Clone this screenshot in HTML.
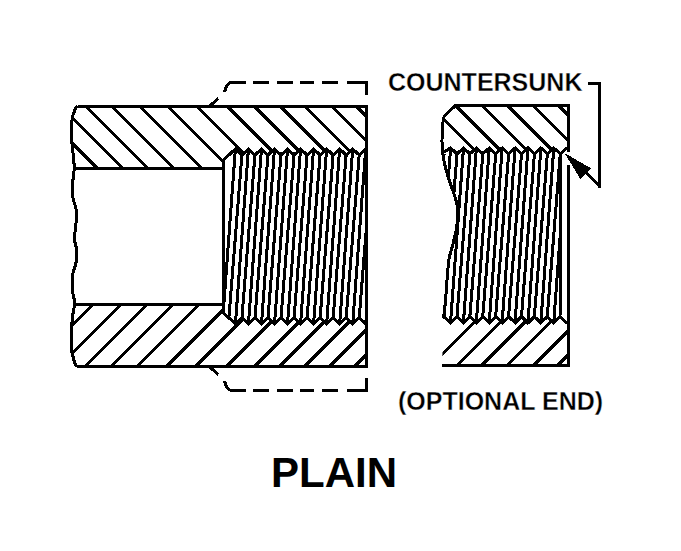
<!DOCTYPE html>
<html><head><meta charset="utf-8"><style>
html,body{margin:0;padding:0;background:#fff;}
body{width:681px;height:551px;overflow:hidden;position:relative;}
svg{position:absolute;left:0;top:0;}
.t{position:absolute;font-family:"Liberation Sans",sans-serif;color:#000;white-space:nowrap;line-height:1;}
</style></head><body>
<svg width="681" height="551" viewBox="0 0 681 551">
<defs><clipPath id="cTop"><polygon points="76.50,106.50 366.50,106.50 366.50,149.65 365.70,148.90 359.18,155.00 352.67,148.90 346.15,155.00 339.64,148.90 333.12,155.00 326.61,148.90 320.09,155.00 313.58,148.90 307.06,155.00 300.55,148.90 294.03,155.00 287.52,148.90 281.00,155.00 274.49,148.90 267.97,155.00 261.46,148.90 254.94,155.00 248.43,148.90 241.91,155.00 235.40,148.90 223.50,160.00 223.50,168.00 74.00,168.00 73.60,158.00 72.00,143.50 71.50,130.00 71.70,122.50 72.80,116.00 74.30,111.50 75.50,108.50 77.50,106.40"/></clipPath><clipPath id="cBot"><polygon points="77.00,366.50 366.50,366.50 366.50,323.05 365.70,323.80 359.18,317.70 352.67,323.80 346.15,317.70 339.64,323.80 333.12,317.70 326.61,323.80 320.09,317.70 313.58,323.80 307.06,317.70 300.55,323.80 294.03,317.70 287.52,323.80 281.00,317.70 274.49,323.80 267.97,317.70 261.46,323.80 254.94,317.70 248.43,323.80 241.91,317.70 235.40,323.80 223.50,313.00 223.50,304.50 74.00,304.50 74.60,305.00 73.20,312.00 71.70,327.00 71.80,350.00 72.90,356.00 74.20,361.00 75.60,364.60 77.00,366.40"/></clipPath><clipPath id="cThr"><polygon points="223.50,160.00 235.40,148.90 241.91,155.00 248.43,148.90 254.94,155.00 261.46,148.90 267.97,155.00 274.49,148.90 281.00,155.00 287.52,148.90 294.03,155.00 300.55,148.90 307.06,155.00 313.58,148.90 320.09,155.00 326.61,148.90 333.12,155.00 339.64,148.90 346.15,155.00 352.67,148.90 359.18,155.00 365.70,148.90 366.50,149.65 366.50,323.05 365.70,323.80 359.18,317.70 352.67,323.80 346.15,317.70 339.64,323.80 333.12,317.70 326.61,323.80 320.09,317.70 313.58,323.80 307.06,317.70 300.55,323.80 294.03,317.70 287.52,323.80 281.00,317.70 274.49,323.80 267.97,317.70 261.46,323.80 254.94,317.70 248.43,323.80 241.91,317.70 235.40,323.80 223.50,313.00"/></clipPath><clipPath id="coTop"><polygon points="454.50,105.50 568.40,105.50 567.40,148.00 566.70,148.00 560.25,153.80 553.80,148.00 547.35,153.80 540.90,148.00 534.45,153.80 528.00,148.00 521.55,153.80 515.10,148.00 508.65,153.80 502.20,148.00 495.75,153.80 489.30,148.00 482.85,153.80 476.40,148.00 469.95,153.80 463.50,148.00 457.05,153.80 450.60,148.00 444.00,152.00 442.50,150.00 442.00,141.00 442.70,126.00 443.50,118.50 445.00,115.50"/></clipPath><clipPath id="coBot"><polygon points="442.00,365.50 568.40,365.50 568.40,323.10 566.70,322.90 560.25,316.60 553.80,322.90 547.35,316.60 540.90,322.90 534.45,316.60 528.00,322.90 521.55,316.60 515.10,322.90 508.65,316.60 502.20,322.90 495.75,316.60 489.30,322.90 482.85,316.60 476.40,322.90 469.95,316.60 463.50,322.90 457.05,316.60 450.60,322.90 443.80,316.80"/></clipPath><clipPath id="coThr"><polygon points="444.00,152.00 450.60,148.00 457.05,153.80 463.50,148.00 469.95,153.80 476.40,148.00 482.85,153.80 489.30,148.00 495.75,153.80 502.20,148.00 508.65,153.80 515.10,148.00 521.55,153.80 528.00,148.00 534.45,153.80 540.90,148.00 547.35,153.80 553.80,148.00 560.25,153.80 560.40,152.00 560.40,318.00 560.25,316.60 553.80,322.90 547.35,316.60 540.90,322.90 534.45,316.60 528.00,322.90 521.55,316.60 515.10,322.90 508.65,316.60 502.20,322.90 495.75,316.60 489.30,322.90 482.85,316.60 476.40,322.90 469.95,316.60 463.50,322.90 457.05,316.60 450.60,322.90 443.80,316.80 443.80,318.00 444.20,312.00 445.50,300.70 447.40,275.00 449.10,258.30 451.80,248.50 454.50,237.60 456.70,227.00 457.80,216.00 457.00,204.30 453.80,193.50 450.00,182.60 446.70,172.00 444.00,161.00"/></clipPath></defs>
<g fill="none" stroke="#000" stroke-linecap="butt" shape-rendering="crispEdges">
<g clip-path="url(#cTop)"><path d="M19.00,90 L119.00,190 M44.40,90 L144.40,190 M69.30,90 L169.30,190 M95.70,90 L195.70,190 M123.50,90 L223.50,190 M151.50,90 L251.50,190 M180.30,90 L280.30,190 M211.00,90 L311.00,190 M238.00,90 L338.00,190 M264.00,90 L364.00,190 M288.60,90 L388.60,190 M315.70,90 L415.70,190 M340.00,90 L440.00,190" stroke-width="3"/></g>
<g clip-path="url(#cBot)"><path d="M107.40,290 L17.40,380 M135.40,290 L45.40,380 M161.50,290 L71.50,380 M187.40,290 L97.40,380 M213.80,290 L123.80,380 M243.00,290 L153.00,380 M272.00,290 L182.00,380 M303.00,290 L213.00,380 M331.00,290 L241.00,380 M356.00,290 L266.00,380 M381.00,290 L291.00,380 M406.00,290 L316.00,380 M431.00,290 L341.00,380" stroke-width="3"/></g>
<g clip-path="url(#cThr)"><path d="M235.40,148.9 L222.40,323.8 M241.91,155.0 L228.91,317.7 M248.43,148.9 L235.43,323.8 M254.94,155.0 L241.94,317.7 M261.46,148.9 L248.46,323.8 M267.97,155.0 L254.97,317.7 M274.49,148.9 L261.49,323.8 M281.00,155.0 L268.00,317.7 M287.52,148.9 L274.52,323.8 M294.03,155.0 L281.03,317.7 M300.55,148.9 L287.55,323.8 M307.06,155.0 L294.06,317.7 M313.58,148.9 L300.58,323.8 M320.09,155.0 L307.09,317.7 M326.61,148.9 L313.61,323.8 M333.12,155.0 L320.12,317.7 M339.64,148.9 L326.64,323.8 M346.15,155.0 L333.15,317.7 M352.67,148.9 L339.67,323.8 M359.19,155.0 L346.19,317.7 M365.70,148.9 L352.70,323.8 M372.21,155.0 L359.21,317.7 M378.73,148.9 L365.73,323.8 M385.25,155.0 L372.25,317.7 M391.76,148.9 L378.76,323.8 M398.27,155.0 L385.27,317.7 M404.79,148.9 L391.79,323.8 M411.30,155.0 L398.30,317.7 M417.82,148.9 L404.82,323.8 M424.33,155.0 L411.33,317.7 M430.85,148.9 L417.85,323.8 M437.37,155.0 L424.37,317.7 M443.88,148.9 L430.88,323.8 M450.39,155.0 L437.39,317.7 M456.91,148.9 L443.91,323.8 M463.42,155.0 L450.42,317.7 M469.94,148.9 L456.94,323.8 M476.45,155.0 L463.45,317.7 M482.97,148.9 L469.97,323.8 M489.49,155.0 L476.49,317.7 M496.00,148.9 L483.00,323.8 M502.51,155.0 L489.51,317.7 M509.03,148.9 L496.03,323.8 M515.54,155.0 L502.54,317.7 M522.06,148.9 L509.06,323.8 M528.57,155.0 L515.57,317.7 M535.09,148.9 L522.09,323.8 M541.61,155.0 L528.61,317.7" stroke-width="3"/></g>
<g clip-path="url(#coTop)"><path d="M414.50,90 L514.50,190 M440.10,90 L540.10,190 M466.50,90 L566.50,190 M491.90,90 L591.90,190 M517.70,90 L617.70,190 M543.00,90 L643.00,190" stroke-width="3"/></g>
<g clip-path="url(#coBot)"><path d="M506.50,290 L416.50,380 M532.40,290 L442.40,380 M557.10,290 L467.10,380 M582.40,290 L492.40,380 M609.10,290 L519.10,380 M633.00,290 L543.00,380" stroke-width="3"/></g>
<g clip-path="url(#coThr)"><path d="M411.90,148.0 L398.90,322.9 M418.35,153.8 L405.35,316.6 M424.80,148.0 L411.80,322.9 M431.25,153.8 L418.25,316.6 M437.70,148.0 L424.70,322.9 M444.15,153.8 L431.15,316.6 M450.60,148.0 L437.60,322.9 M457.05,153.8 L444.05,316.6 M463.50,148.0 L450.50,322.9 M469.95,153.8 L456.95,316.6 M476.40,148.0 L463.40,322.9 M482.85,153.8 L469.85,316.6 M489.30,148.0 L476.30,322.9 M495.75,153.8 L482.75,316.6 M502.20,148.0 L489.20,322.9 M508.65,153.8 L495.65,316.6 M515.10,148.0 L502.10,322.9 M521.55,153.8 L508.55,316.6 M528.00,148.0 L515.00,322.9 M534.45,153.8 L521.45,316.6 M540.90,148.0 L527.90,322.9 M547.35,153.8 L534.35,316.6 M553.80,148.0 L540.80,322.9 M560.25,153.8 L547.25,316.6 M566.70,148.0 L553.70,322.9 M573.15,153.8 L560.15,316.6 M579.60,148.0 L566.60,322.9 M586.05,153.8 L573.05,316.6 M592.50,148.0 L579.50,322.9 M598.95,153.8 L585.95,316.6 M605.40,148.0 L592.40,322.9 M611.85,153.8 L598.85,316.6 M618.30,148.0 L605.30,322.9 M624.75,153.8 L611.75,316.6" stroke-width="3"/></g>
<path d="M77.5,106.5 H368.0 M366.5,105.0 V368.0 M77,366.5 H368.0 M74,168 H223.5 M74,304.5 H223.5 M223.5,159 V314" stroke-width="3"/>
<path d="M77.50,106.40 C77.17,106.75 76.03,107.65 75.50,108.50 C74.97,109.35 74.75,110.25 74.30,111.50 C73.85,112.75 73.23,114.17 72.80,116.00 C72.37,117.83 71.92,120.17 71.70,122.50 C71.48,124.83 71.45,126.50 71.50,130.00 C71.55,133.50 71.65,138.83 72.00,143.50 C72.35,148.17 73.23,153.83 73.60,158.00 C73.97,162.17 74.27,165.17 74.20,168.50 C74.13,171.83 73.50,175.25 73.20,178.00 C72.90,180.75 72.47,181.83 72.40,185.00 C72.33,188.17 72.42,193.83 72.80,197.00 C73.18,200.17 74.12,201.67 74.70,204.00 C75.28,206.33 76.08,207.75 76.30,211.00 C76.52,214.25 76.18,220.33 76.00,223.50 C75.82,226.67 75.43,227.25 75.20,230.00 C74.97,232.75 74.40,236.83 74.60,240.00 C74.80,243.17 76.15,245.33 76.40,249.00 C76.65,252.67 76.40,258.90 76.10,262.00 C75.80,265.10 75.17,265.43 74.60,267.60 C74.03,269.77 73.07,271.27 72.70,275.00 C72.33,278.73 72.08,285.67 72.40,290.00 C72.72,294.33 74.23,298.50 74.60,301.00 C74.97,303.50 74.83,303.17 74.60,305.00 C74.37,306.83 73.68,308.33 73.20,312.00 C72.72,315.67 71.93,320.67 71.70,327.00 C71.47,333.33 71.60,345.17 71.80,350.00 C72.00,354.83 72.50,354.17 72.90,356.00 C73.30,357.83 73.75,359.57 74.20,361.00 C74.65,362.43 75.13,363.70 75.60,364.60 C76.07,365.50 76.77,366.10 77.00,366.40" stroke-width="3" stroke-linejoin="round"/>
<polyline points="223.50,160.00 235.40,148.90 241.91,155.00 248.43,148.90 254.94,155.00 261.46,148.90 267.97,155.00 274.49,148.90 281.00,155.00 287.52,148.90 294.03,155.00 300.55,148.90 307.06,155.00 313.58,148.90 320.09,155.00 326.61,148.90 333.12,155.00 339.64,148.90 346.15,155.00 352.67,148.90 359.18,155.00 365.70,148.90 366.50,149.65" stroke-width="3" stroke-linejoin="miter"/>
<polyline points="223.50,313.00 235.40,323.80 241.91,317.70 248.43,323.80 254.94,317.70 261.46,323.80 267.97,317.70 274.49,323.80 281.00,317.70 287.52,323.80 294.03,317.70 300.55,323.80 307.06,317.70 313.58,323.80 320.09,317.70 326.61,323.80 333.12,317.70 339.64,323.80 346.15,317.70 352.67,323.80 359.18,317.70 365.70,323.80 366.50,323.05" stroke-width="3"/>
<path d="M209,106.5 L218.5,98.5 M224.4,92 L226.3,87 Q228.3,82.5 232,82.5 H246 M253,82.5 H269 M277,82.5 H293 M300,82.5 H314 M322,82.5 H338 M347,82.5 H366.5 V95" stroke-width="3"/>
<path d="M209,366.5 L218.5,374.5 M224.4,381 L226.3,386 Q228.3,390.5 232,390.5 H246 M253,390.5 H269 M277,390.5 H293 M300,390.5 H314 M322,390.5 H338 M347,390.5 H366.5 V378" stroke-width="3"/>
<path d="M455,105.5 H569.9 M568.4,104.0 V151.5 M568.4,165 V367.0 M442,365.5 H569.9 M455.5,105.5 L445,115.5" stroke-width="3"/>
<path d="M445.00,115.50 C444.75,116.00 443.88,116.75 443.50,118.50 C443.12,120.25 442.95,122.25 442.70,126.00 C442.45,129.75 442.03,137.00 442.00,141.00 C441.97,145.00 442.17,146.67 442.50,150.00 C442.83,153.33 443.30,157.33 444.00,161.00 C444.70,164.67 445.70,168.40 446.70,172.00 C447.70,175.60 448.82,179.02 450.00,182.60 C451.18,186.18 452.63,189.88 453.80,193.50 C454.97,197.12 456.33,200.55 457.00,204.30 C457.67,208.05 457.85,212.22 457.80,216.00 C457.75,219.78 457.25,223.40 456.70,227.00 C456.15,230.60 455.32,234.02 454.50,237.60 C453.68,241.18 452.70,245.05 451.80,248.50 C450.90,251.95 449.83,253.88 449.10,258.30 C448.37,262.72 448.00,267.93 447.40,275.00 C446.80,282.07 446.03,294.53 445.50,300.70 C444.97,306.87 444.48,309.12 444.20,312.00 C443.92,314.88 443.87,317.00 443.80,318.00" stroke-width="3" stroke-linejoin="round"/>
<polyline points="444.00,152.00 450.60,148.00 457.05,153.80 463.50,148.00 469.95,153.80 476.40,148.00 482.85,153.80 489.30,148.00 495.75,153.80 502.20,148.00 508.65,153.80 515.10,148.00 521.55,153.80 528.00,148.00 534.45,153.80 540.90,148.00 547.35,153.80 553.80,148.00 560.25,153.80 566.70,148.00 567.40,148.00" stroke-width="3"/>
<path d="M560.4,152 V315" stroke-width="3"/>
<polyline points="443.80,316.80 450.60,322.90 457.05,316.60 463.50,322.90 469.95,316.60 476.40,322.90 482.85,316.60 489.30,322.90 495.75,316.60 502.20,322.90 508.65,316.60 515.10,322.90 521.55,316.60 528.00,322.90 534.45,316.60 540.90,322.90 547.35,316.60 553.80,322.90 560.25,316.60 566.70,322.90 568.40,323.10" stroke-width="3"/>
<path d="M588,83.2 H600.9 M599.5,83.2 V187.7 M599.7,186.2 L585.5,172" stroke-width="2.8"/>
<polygon points="564.5,153 591,168.3 586.6,172.8 580.4,179" fill="#000" stroke="none"/>
</g>
</svg>
<div class="t" id="t1" style="left:388px;top:70px;font-size:25px;font-weight:bold;-webkit-text-stroke:0.35px #fff;">COUNTERSUNK</div>
<div class="t" id="t2" style="left:398px;top:389.3px;font-size:25px;font-weight:bold;-webkit-text-stroke:0.35px #fff;">(OPTIONAL END)</div>
<div class="t" id="t3" style="left:271px;top:452px;font-size:42px;font-weight:bold;">PLAIN</div>
</body></html>
